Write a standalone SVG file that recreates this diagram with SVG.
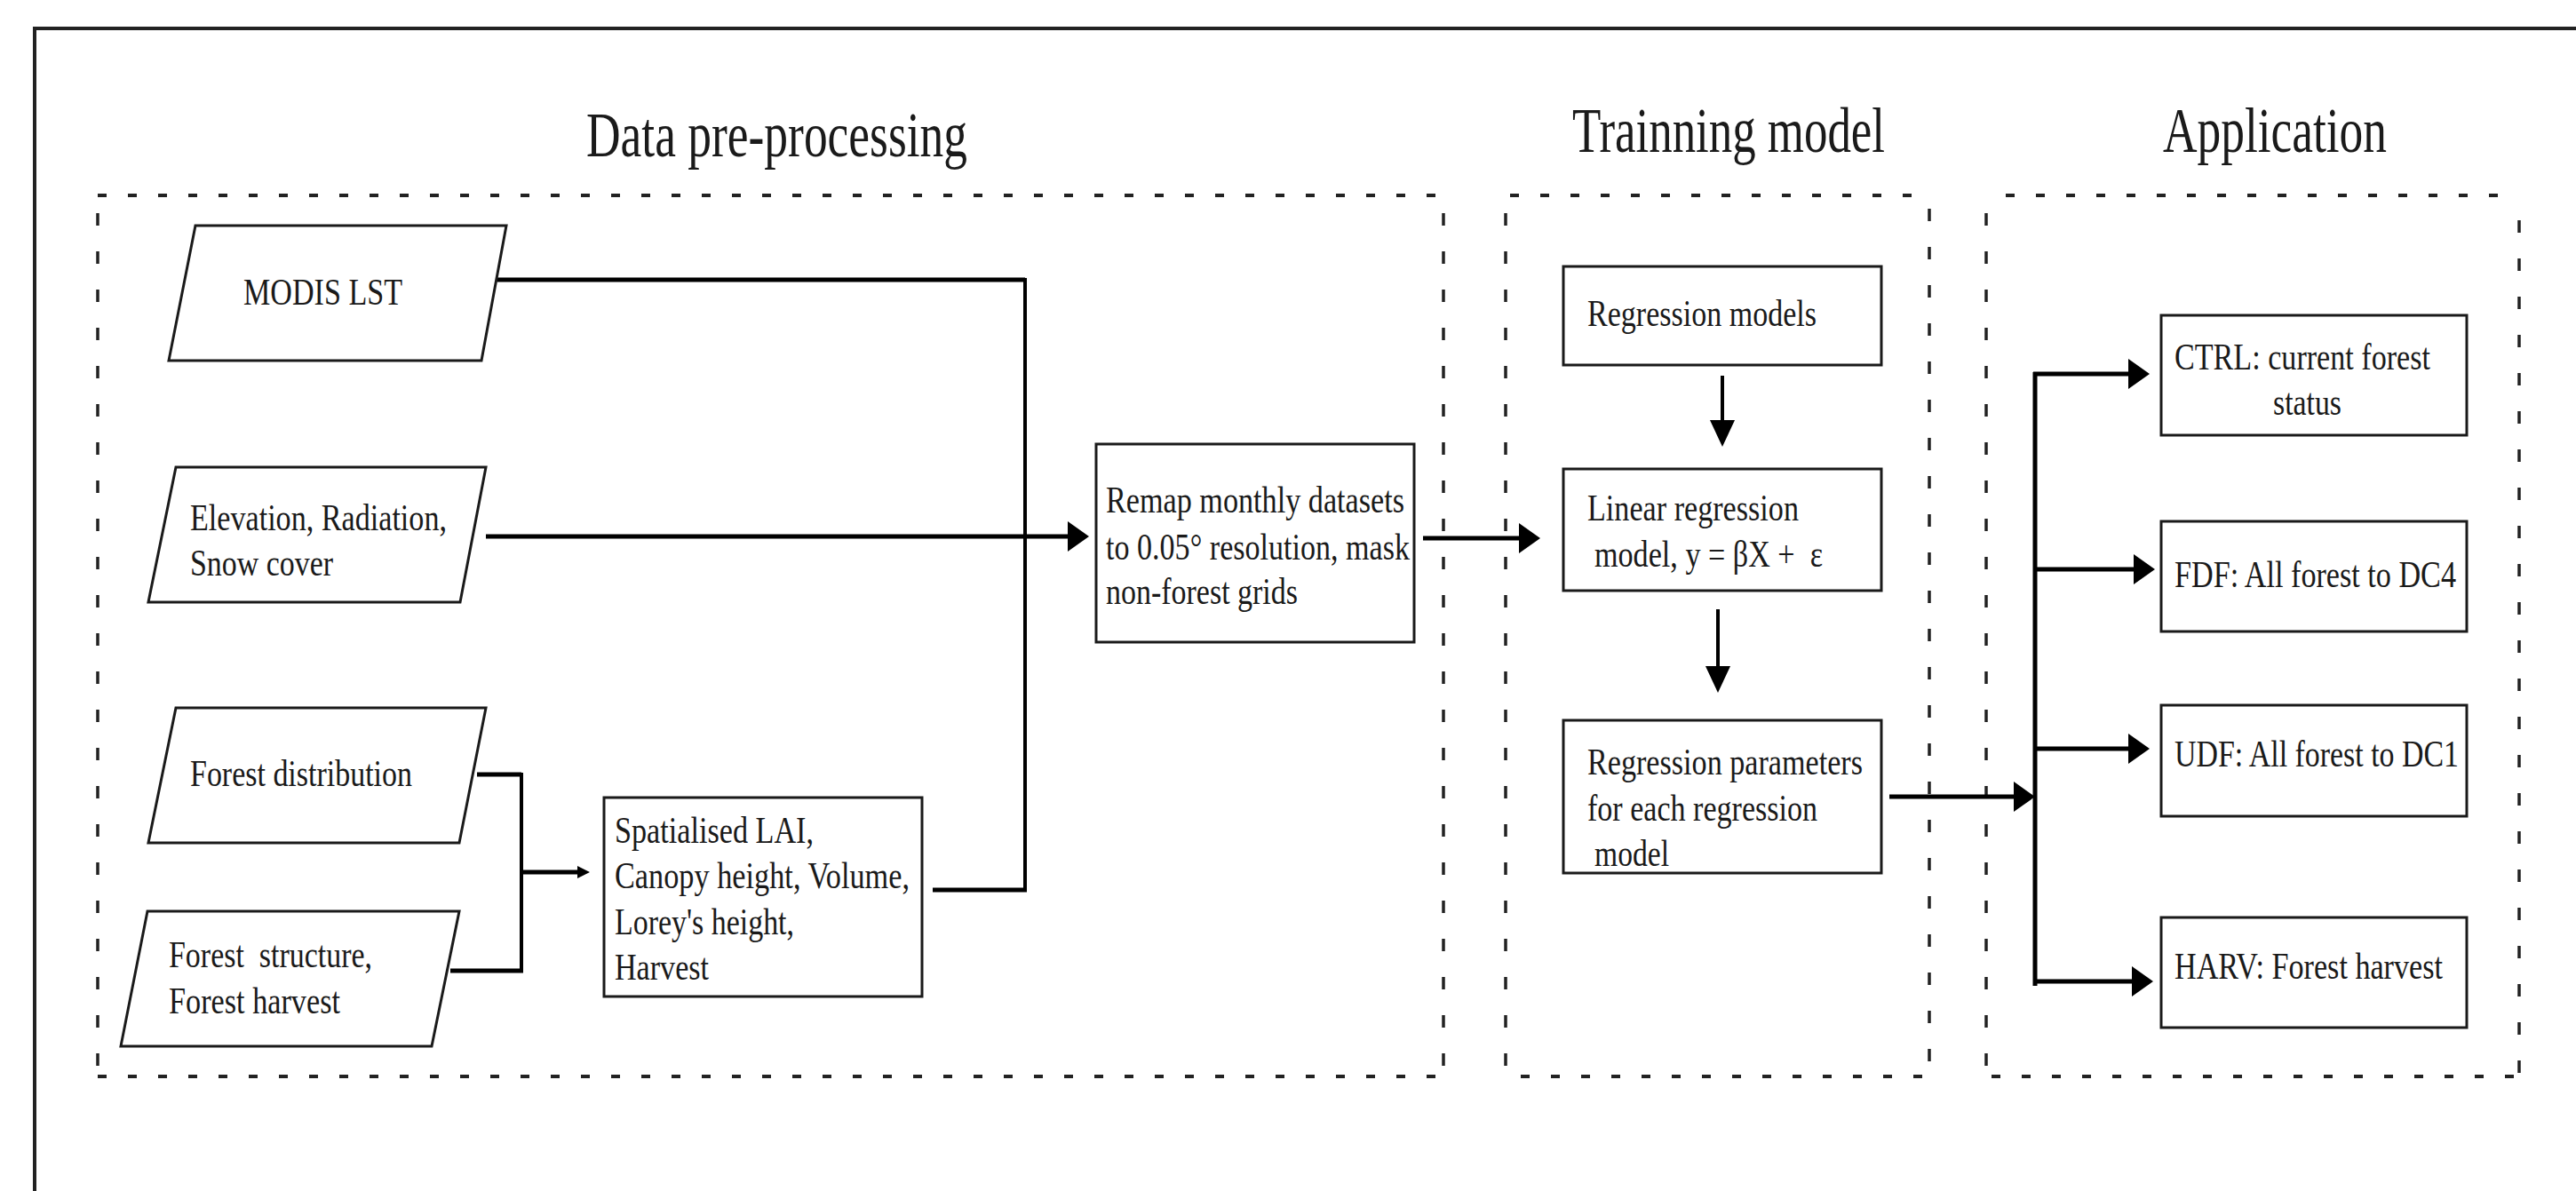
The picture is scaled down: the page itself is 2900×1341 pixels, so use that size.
<svg xmlns="http://www.w3.org/2000/svg" width="2900" height="1341" viewBox="0 0 2900 1341">
<style>
text{font-family:"Liberation Serif","Times New Roman",serif;fill:#1a1a1a;lengthAdjust:spacingAndGlyphs}
.t{font-size:43px}
.h{font-size:71px}
.box{fill:#fff;stroke:#1a1a1a;stroke-width:3}
.dh{stroke:#222;stroke-width:4;stroke-dasharray:10 24;fill:none}
.dv{stroke:#222;stroke-width:3.5;stroke-dasharray:14 29;fill:none}
.c{fill:none;stroke:#000;stroke-width:5}
.cv{fill:none;stroke:#000;stroke-width:4}
</style>
<defs>
<marker id="ah" markerUnits="userSpaceOnUse" markerWidth="26" markerHeight="36" viewBox="0 -18 26 36" refX="0" refY="0" orient="auto"><path d="M0,-17 L24,0 L0,17 z" fill="#000"/></marker>
<marker id="ahd" markerUnits="userSpaceOnUse" markerWidth="32" markerHeight="30" viewBox="0 -15 32 30" refX="0" refY="0" orient="auto"><path d="M0,-14 L30,0 L0,14 z" fill="#000"/></marker>
<marker id="ahs" markerUnits="userSpaceOnUse" markerWidth="16" markerHeight="16" viewBox="0 -8 16 16" refX="0" refY="0" orient="auto"><path d="M0,-7 L14,0 L0,7 z" fill="#000"/></marker>
</defs>
<rect width="2900" height="1341" fill="#fff"/>
<path d="M2900,32 H39 V1341" fill="none" stroke="#222" stroke-width="4"/>

<g id="sections">
<g id="sec-data">
<line class="dh" x1="110" y1="220" x2="1626" y2="220"/>
<line class="dh" x1="110" y1="1212" x2="1626" y2="1212"/>
<line class="dv" x1="110" y1="240" x2="110" y2="1212"/>
<line class="dv" x1="1625" y1="240" x2="1625" y2="1212"/>
<text class="h" x="660" y="176" textLength="429" lengthAdjust="spacingAndGlyphs">Data pre-processing</text>
</g>
<g id="sec-train">
<line class="dh" x1="1700" y1="220" x2="2172" y2="220"/>
<line class="dh" x1="1712" y1="1212" x2="2172" y2="1212"/>
<line class="dv" x1="1695" y1="240" x2="1695" y2="1212"/>
<line class="dv" x1="2172" y1="235" x2="2172" y2="1212"/>
<text class="h" x="1770" y="171" textLength="352" lengthAdjust="spacingAndGlyphs">Trainning model</text>
</g>
<g id="sec-app">
<line class="dh" x1="2258" y1="220" x2="2836" y2="220"/>
<line class="dh" x1="2242" y1="1212" x2="2836" y2="1212"/>
<line class="dv" x1="2236" y1="240" x2="2236" y2="1212"/>
<line class="dv" x1="2836" y1="248" x2="2836" y2="1212"/>
<text class="h" x="2435" y="171" textLength="252" lengthAdjust="spacingAndGlyphs">Application</text>
</g>
</g>

<g id="connectors">
<path class="c" d="M560,315 H1154"/>
<path class="cv" d="M1154,313 V1002"/>
<path class="c" d="M1050,1002 H1156"/>
<path class="c" d="M547,604 H1202" marker-end="url(#ah)"/>
<path class="c" d="M537,872 H587"/>
<path class="c" d="M507,1093 H589"/>
<path class="cv" d="M587,870 V1095"/>
<path class="c" d="M587,982 H650" marker-end="url(#ahs)"/>
<path class="c" d="M1602,606 H1710" marker-end="url(#ah)"/>
<path class="cv" d="M1939,423 V473" marker-end="url(#ahd)"/>
<path class="cv" d="M1934,686 V750" marker-end="url(#ahd)"/>
<path class="c" d="M2127,897 H2267" marker-end="url(#ah)"/>
<path class="c" d="M2291,419 V1110"/>
<path class="c" d="M2289,421 H2396" marker-end="url(#ah)"/>
<path class="c" d="M2289,641 H2402" marker-end="url(#ah)"/>
<path class="c" d="M2289,843 H2396" marker-end="url(#ah)"/>
<path class="c" d="M2289,1105 H2400" marker-end="url(#ah)"/>
</g>

<g id="n-modis">
<polygon class="box" points="220,254 570,254 542,406 190,406"/>
<text class="t" x="274" y="343" textLength="179" lengthAdjust="spacingAndGlyphs">MODIS LST</text>
</g>
<g id="n-elev">
<polygon class="box" points="198,526 547,526 518,678 167,678"/>
<text class="t" x="214" y="597" textLength="289" lengthAdjust="spacingAndGlyphs">Elevation, Radiation,</text>
<text class="t" x="214" y="648" textLength="161" lengthAdjust="spacingAndGlyphs">Snow cover</text>
</g>
<g id="n-fdist">
<polygon class="box" points="198,797 547,797 517,949 167,949"/>
<text class="t" x="214" y="885" textLength="250" lengthAdjust="spacingAndGlyphs">Forest distribution</text>
</g>
<g id="n-fstruct">
<polygon class="box" points="166,1026 517,1026 486,1178 136,1178"/>
<text class="t" x="190" y="1089" textLength="229" lengthAdjust="spacingAndGlyphs" xml:space="preserve">Forest  structure,</text>
<text class="t" x="190" y="1141" textLength="193" lengthAdjust="spacingAndGlyphs">Forest harvest</text>
</g>
<g id="n-spatial">
<rect class="box" x="680" y="898" width="358" height="224"/>
<text class="t" x="692" y="949" textLength="224" lengthAdjust="spacingAndGlyphs">Spatialised LAI,</text>
<text class="t" x="692" y="1000" textLength="332" lengthAdjust="spacingAndGlyphs">Canopy height, Volume,</text>
<text class="t" x="692" y="1052" textLength="202" lengthAdjust="spacingAndGlyphs">Lorey's height,</text>
<text class="t" x="692" y="1103" textLength="106" lengthAdjust="spacingAndGlyphs">Harvest</text>
</g>
<g id="n-remap">
<rect class="box" x="1234" y="500" width="358" height="223"/>
<text class="t" x="1245" y="577" textLength="336" lengthAdjust="spacingAndGlyphs">Remap monthly datasets</text>
<text class="t" x="1245" y="630" textLength="342" lengthAdjust="spacingAndGlyphs">to 0.05° resolution, mask</text>
<text class="t" x="1245" y="680" textLength="216" lengthAdjust="spacingAndGlyphs">non-forest grids</text>
</g>
<g id="n-regmodels">
<rect class="box" x="1760" y="300" width="358" height="111"/>
<text class="t" x="1787" y="367" textLength="258" lengthAdjust="spacingAndGlyphs">Regression models</text>
</g>
<g id="n-linear">
<rect class="box" x="1760" y="528" width="358" height="137"/>
<text class="t" x="1787" y="586" textLength="238" lengthAdjust="spacingAndGlyphs">Linear regression</text>
<text class="t" x="1795" y="638" textLength="257" lengthAdjust="spacingAndGlyphs" xml:space="preserve">model, y = βX +  ε</text>
</g>
<g id="n-params">
<rect class="box" x="1760" y="811" width="358" height="172"/>
<text class="t" x="1787" y="872" textLength="310" lengthAdjust="spacingAndGlyphs">Regression parameters</text>
<text class="t" x="1787" y="924" textLength="259" lengthAdjust="spacingAndGlyphs">for each regression</text>
<text class="t" x="1795" y="975" textLength="84" lengthAdjust="spacingAndGlyphs">model</text>
</g>
<g id="n-ctrl">
<rect class="box" x="2433" y="355" width="344" height="135"/>
<text class="t" x="2448" y="416" textLength="288" lengthAdjust="spacingAndGlyphs">CTRL: current forest</text>
<text class="t" x="2559" y="467" textLength="77" lengthAdjust="spacingAndGlyphs">status</text>
</g>
<g id="n-fdf">
<rect class="box" x="2433" y="587" width="344" height="124"/>
<text class="t" x="2448" y="661" textLength="317" lengthAdjust="spacingAndGlyphs">FDF: All forest to DC4</text>
</g>
<g id="n-udf">
<rect class="box" x="2433" y="794" width="344" height="125"/>
<text class="t" x="2448" y="863" textLength="320" lengthAdjust="spacingAndGlyphs">UDF: All forest to DC1</text>
</g>
<g id="n-harv">
<rect class="box" x="2433" y="1033" width="344" height="124"/>
<text class="t" x="2448" y="1102" textLength="302" lengthAdjust="spacingAndGlyphs">HARV: Forest harvest</text>
</g>
</svg>
